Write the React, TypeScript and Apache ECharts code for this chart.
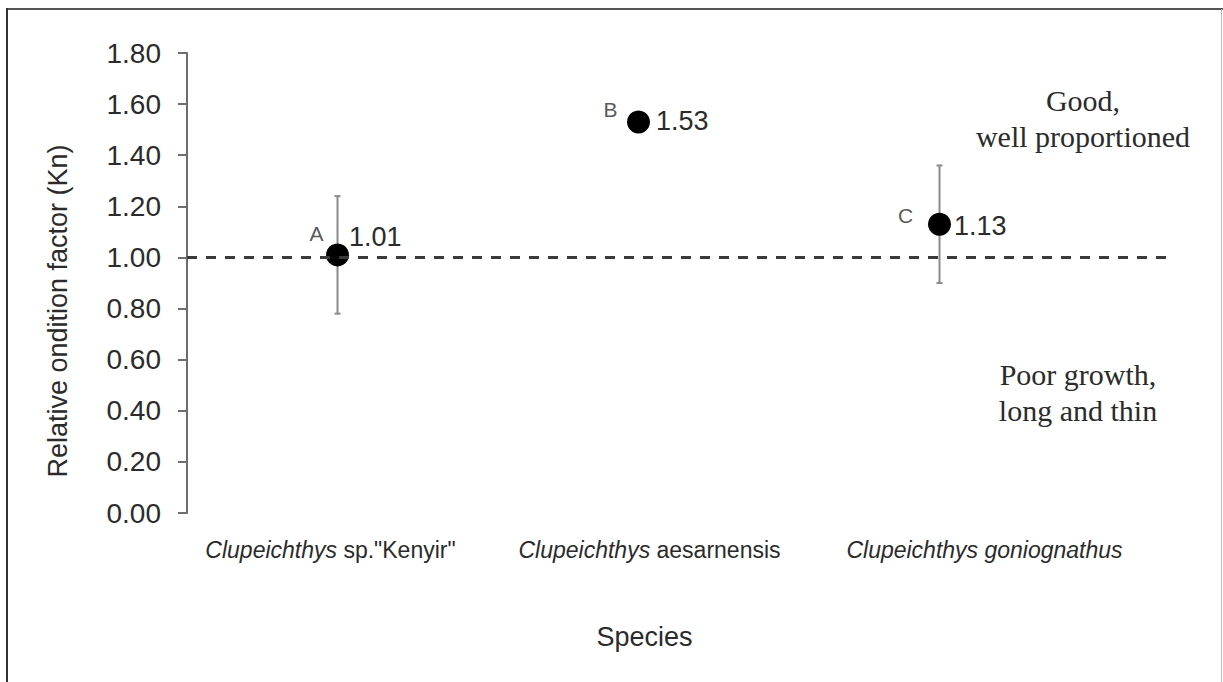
import React, { useEffect, useRef } from 'react';
import * as echarts from 'echarts';

// ---- data ----
const genusNames = ['Clupeichthys', 'Clupeichthys', 'Clupeichthys'];
const epithets = [' sp."Kenyir"', ' aesarnensis', ' goniognathus'];
const epithetItalic = [false, false, true];
const categories = genusNames.map((g, i) => g + epithets[i]);
const knValues = [1.01, 1.53, 1.13];
const knErrors = [0.23, 0, 0.23];
const groupLetters = ['A', 'B', 'C'];
const threshold = 1.0;
const yMin = 0;
const yMax = 1.8;
const yStep = 0.2;
const yTitle = 'Relative ondition factor (Kn)';
const xTitle = 'Species';
const goodText = ['Good,', 'well proportioned'];
const poorText = ['Poor growth,', 'long and thin'];

// ---- layout / style config ----
const valueLabelOffsets = [[0, -18], [6, -1], [3, 2]];
const letterOffsets = [[-21, -21], [-28, -13], [-34, -9]];
const categoryShift = [-7, 11, 45];
const SANS = '"Liberation Sans", Arial, sans-serif';
const SERIF = '"Liberation Serif", "Times New Roman", serif';
const TXT = '#2b2b2b';

export default function App() {
  const ref = useRef<HTMLDivElement>(null);
  useEffect(() => {
    if (!ref.current) return;
    const chart = echarts.init(ref.current, undefined, { renderer: 'svg' });
    const option: any = {
      animation: false,
      backgroundColor: '#ffffff',
      grid: [
        { left: 187, right: 133, top: 53, bottom: 169 },
        { left: 187, right: 53, top: 53, bottom: 169 },
      ],
      xAxis: [
        {
          type: 'category',
          gridIndex: 0,
          data: categories.map((c, i) => ({
            value: c,
            textStyle: {
              padding: categoryShift[i] >= 0 ? [0, 0, 0, 2 * categoryShift[i]] : [0, -2 * categoryShift[i], 0, 0],
            },
          })),
          axisLine: { show: false },
          axisTick: { show: false },
          splitLine: { show: false },
          axisLabel: {
            margin: 25,
            interval: 0,
            formatter: (_v: string, idx: number) =>
              `{g|${genusNames[idx]}}{${epithetItalic[idx] ? 'g' : 'n'}|${epithets[idx]}}`,
            rich: {
              g: { fontStyle: 'italic', fontSize: 23, fontFamily: SANS, color: TXT },
              n: { fontSize: 23, fontFamily: SANS, color: TXT },
            },
          },
          name: xTitle,
          nameLocation: 'middle',
          nameGap: 110,
          nameTextStyle: { fontSize: 27, fontFamily: SANS, color: TXT, padding: [0, 0, 0, 12] },
        },
        { type: 'value', gridIndex: 1, min: 0, max: 1, show: false },
      ],
      yAxis: [
        {
          type: 'value',
          gridIndex: 0,
          min: yMin,
          max: yMax,
          interval: yStep,
          axisLine: { show: true, lineStyle: { color: '#6e6e6e', width: 2 } },
          axisTick: { show: true, inside: false, length: 9, lineStyle: { color: '#6e6e6e', width: 2 } },
          splitLine: { show: false },
          axisLabel: {
            margin: 26,
            fontSize: 28,
            fontFamily: SANS,
            color: TXT,
            formatter: (v: number) => v.toFixed(2),
          },
        },
        { type: 'value', gridIndex: 1, min: yMin, max: yMax, show: false },
      ],
      series: [
        {
          type: 'line',
          xAxisIndex: 1,
          yAxisIndex: 1,
          data: [],
          silent: true,
          markLine: {
            silent: true,
            symbol: 'none',
            label: { show: false },
            lineStyle: { color: '#3a3a3a', width: 3, type: [10, 9] },
            data: [{ yAxis: threshold }],
          },
        },
        {
          type: 'custom',
          xAxisIndex: 0,
          yAxisIndex: 0,
          encode: { x: 0, y: 1 },
          data: knValues.map((v, i) => [i, v, knErrors[i]]),
          renderItem: (_p: any, api: any) => {
            const i = api.value(0);
            const v = api.value(1);
            const e = api.value(2);
            if (!e) return { type: 'group', children: [] };
            const top = api.coord([i, v + e]);
            const bot = api.coord([i, v - e]);
            const cap = 3;
            const st = { stroke: '#8a8a8a', lineWidth: 2 };
            return {
              type: 'group',
              children: [
                { type: 'line', shape: { x1: top[0], y1: top[1], x2: bot[0], y2: bot[1] }, style: st },
                { type: 'line', shape: { x1: top[0] - cap, y1: top[1], x2: top[0] + cap, y2: top[1] }, style: st },
                { type: 'line', shape: { x1: bot[0] - cap, y1: bot[1], x2: bot[0] + cap, y2: bot[1] }, style: st },
              ],
            };
          },
          z: 2,
        },
        {
          type: 'scatter',
          xAxisIndex: 0,
          yAxisIndex: 0,
          symbol: 'circle',
          symbolSize: 23,
          itemStyle: { color: '#000000', opacity: 1 },
          z: 3,
          data: knValues.map((v, i) => ({
            value: [i, v],
            label: {
              show: true,
              position: 'right',
              distance: 0,
              offset: valueLabelOffsets[i],
              formatter: v.toFixed(2),
              fontSize: 27,
              fontFamily: SANS,
              color: TXT,
            },
          })),
        },
        {
          type: 'scatter',
          xAxisIndex: 0,
          yAxisIndex: 0,
          symbol: 'circle',
          symbolSize: 2,
          itemStyle: { color: 'rgba(0,0,0,0)' },
          silent: true,
          z: 4,
          data: knValues.map((v, i) => ({
            value: [i, v],
            label: {
              show: true,
              position: 'inside',
              offset: letterOffsets[i],
              formatter: groupLetters[i],
              fontSize: 21,
              fontFamily: SANS,
              color: TXT,
            },
          })),
        },
      ],
      graphic: [
        { type: 'line', shape: { x1: 6, y1: 9, x2: 1223, y2: 9 }, style: { stroke: '#555555', lineWidth: 2 } },
        { type: 'line', shape: { x1: 7, y1: 8, x2: 7, y2: 682 }, style: { stroke: '#333333', lineWidth: 2 } },
        { type: 'line', shape: { x1: 1221.5, y1: 9, x2: 1221.5, y2: 682 }, style: { stroke: '#bbbbbb', lineWidth: 1 } },
        {
          type: 'text',
          x: 58,
          y: 311,
          rotation: Math.PI / 2,
          style: { text: yTitle, fontSize: 27, fontFamily: SANS, fill: TXT, align: 'center', verticalAlign: 'middle' },
        },
        {
          type: 'text',
          x: 1083,
          y: 118,
          style: {
            text: goodText.join('\n'),
            fontSize: 30,
            fontFamily: SERIF,
            fill: TXT,
            align: 'center',
            verticalAlign: 'middle',
            lineHeight: 36,
          },
        },
        {
          type: 'text',
          x: 1078,
          y: 392,
          style: {
            text: poorText.join('\n'),
            fontSize: 30,
            fontFamily: SERIF,
            fill: TXT,
            align: 'center',
            verticalAlign: 'middle',
            lineHeight: 36,
          },
        },
      ],
    };
    chart.setOption(option);
    return () => chart.dispose();
  }, []);
  return (
    <div
      ref={ref}
      style={{ position: 'fixed', left: 0, top: 0, width: 1223, height: 682, background: '#fff' }}
    />
  );
}
